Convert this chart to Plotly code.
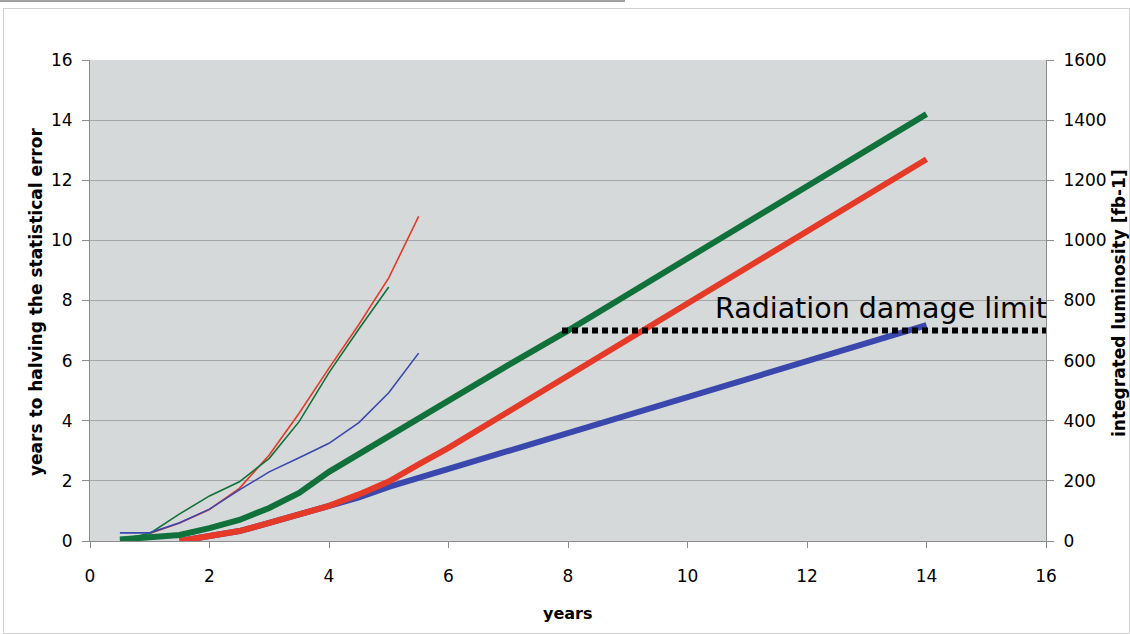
import plotly.graph_objects as go

# thin lines: years to halving the statistical error (left axis)
thin_x_green = [0.5, 1, 1.5, 2, 2.5, 3, 3.5, 4, 4.5, 5]
thin_green = [0.05, 0.25, 0.9, 1.5, 1.97, 2.75, 3.97, 5.6, 7.05, 8.45]
thin_x_red = [1, 1.5, 2, 2.5, 3, 3.5, 4, 4.5, 5, 5.5]
thin_red = [0.25, 0.6, 1.05, 1.75, 2.86, 4.25, 5.75, 7.2, 8.75, 10.8]
thin_x_blue = [0.5, 1, 1.5, 2, 2.5, 3, 3.5, 4, 4.5, 5, 5.5]
thin_blue = [0.27, 0.27, 0.61, 1.06, 1.7, 2.3, 2.77, 3.25, 3.94, 4.93, 6.25]

# thick lines: integrated luminosity [fb-1] (right axis)
lum_x_green = [0.5, 1, 1.5, 2, 2.5, 3, 3.5, 4, 4.5, 5, 6, 7, 8, 9, 10, 11, 12, 13, 14]
lum_green = [5, 10, 20, 43, 70, 110, 160, 230, 290, 350, 465, 585, 700, 820, 940, 1060, 1180, 1300, 1420]
lum_x_red = [1.5, 2, 2.5, 3, 3.5, 4, 4.5, 5, 5.5, 6, 7, 8, 9, 10, 11, 12, 13, 14]
lum_red = [0, 15, 33, 60, 88, 117, 155, 198, 255, 310, 430, 550, 670, 790, 910, 1030, 1150, 1270]
lum_x_blue = [1.5, 2, 2.5, 3, 3.5, 4, 4.5, 5, 6, 7, 8, 9, 10, 11, 12, 13, 14]
lum_blue = [0, 15, 33, 60, 88, 115, 145, 180, 240, 300, 360, 420, 480, 540, 600, 660, 718]

limit_x = [7.9, 16]
limit_lum = [700, 700]
limit_label = "Radiation damage limit"

x_title = "years"
y_title = "years to halving the statistical error"
y2_title = "integrated luminosity [fb-1]"

GREEN = "#11713A"
RED = "#E53A28"
BLUE = "#3A48AE"
FONT = "DejaVu Sans"

fig = go.Figure()

fig.add_trace(go.Scatter(x=lum_x_blue, y=lum_blue, yaxis="y2", mode="lines",
                         line=dict(color=BLUE, width=6), showlegend=False))
fig.add_trace(go.Scatter(x=lum_x_red, y=lum_red, yaxis="y2", mode="lines",
                         line=dict(color=RED, width=6), showlegend=False))
fig.add_trace(go.Scatter(x=lum_x_green, y=lum_green, yaxis="y2", mode="lines",
                         line=dict(color=GREEN, width=6), showlegend=False))
fig.add_trace(go.Scatter(x=limit_x, y=limit_lum, yaxis="y2", mode="lines",
                         line=dict(color="black", width=6, dash="6px,4px"), showlegend=False))

fig.add_trace(go.Scatter(x=thin_x_red, y=thin_red, mode="lines",
                         line=dict(color=RED, width=1.6), showlegend=False))
fig.add_trace(go.Scatter(x=thin_x_green, y=thin_green, mode="lines",
                         line=dict(color=GREEN, width=1.6), showlegend=False))
fig.add_trace(go.Scatter(x=thin_x_blue, y=thin_blue, mode="lines",
                         line=dict(color=BLUE, width=1.6), showlegend=False))

fig.add_annotation(x=16, y=limit_lum[0], yref="y2", xref="x", text=limit_label,
                   showarrow=False, xanchor="right", yanchor="bottom", yshift=4, xshift=3,
                   font=dict(family=FONT, size=28.5, color="black"))

titlefont = dict(family=FONT, size=17, color="black")
# axis titles placed in paper coordinates (plot area spans x 90..1046 px, y 60..541 px)
fig.add_annotation(xref="paper", yref="paper", x=(568 - 90) / 956, y=(541 - 613) / 481,
                   text="<b>" + x_title + "</b>", showarrow=False,
                   xanchor="center", yanchor="middle",
                   font=dict(family=FONT, size=16, color="black"))
fig.add_annotation(xref="paper", yref="paper", x=(36 - 90) / 956, y=(541 - 302) / 481,
                   text="<b>" + y_title + "</b>", showarrow=False, textangle=-90,
                   xanchor="center", yanchor="middle", font=titlefont)
fig.add_annotation(xref="paper", yref="paper", x=(1119 - 90) / 956, y=(541 - 303) / 481,
                   text="<b>" + y2_title + "</b>", showarrow=False, textangle=-90,
                   xanchor="center", yanchor="middle", font=titlefont)

tickfont = dict(family=FONT, size=17, color="black")

fig.update_layout(
    width=1130, height=634,
    margin=dict(l=90, r=84, t=60, b=93, autoexpand=False),
    paper_bgcolor="white",
    plot_bgcolor="#D5D9D9",
    xaxis=dict(range=[0, 16], dtick=2, tick0=0, showgrid=False, zeroline=False,
               showline=True, linecolor="#8C8C8C", linewidth=1, automargin=False,
               ticks="outside", ticklen=6, tickcolor="#8C8C8C", tickfont=tickfont,
               ticklabelstandoff=14),
    yaxis=dict(range=[0, 16], dtick=2, tick0=0, showgrid=True, gridcolor="#A6A6A6",
               gridwidth=1, zeroline=False, showline=True, linecolor="#8C8C8C",
               automargin=False, ticklabelstandoff=6,
               ticks="outside", ticklen=7, tickcolor="#8C8C8C", tickfont=tickfont),
    yaxis2=dict(range=[0, 1600], dtick=200, tick0=0, overlaying="y", side="right",
                showgrid=False, zeroline=False, showline=True, linecolor="#8C8C8C",
                automargin=False, ticklabelstandoff=6,
                ticks="outside", ticklen=7, tickcolor="#8C8C8C", tickfont=tickfont),
)

# decorative frame around the figure
fig.add_shape(type="rect", xref="paper", yref="paper",
              x0=(3.5 - 90) / 956, x1=(1129.5 - 90) / 956,
              y0=(541 - 633.5) / 481, y1=(541 - 8.5) / 481,
              line=dict(color="#CFCFCF", width=1), layer="below")
fig.add_shape(type="line", xref="paper", yref="paper",
              x0=(0 - 90) / 956, x1=(625 - 90) / 956,
              y0=(541 - 1) / 481, y1=(541 - 1) / 481,
              line=dict(color="#A0A0A0", width=2))

fig.write_html("out.html",
               config={"displayModeBar": False},
               post_script="document.body.style.margin='0px';"
                           "document.body.style.overflow='hidden';")
